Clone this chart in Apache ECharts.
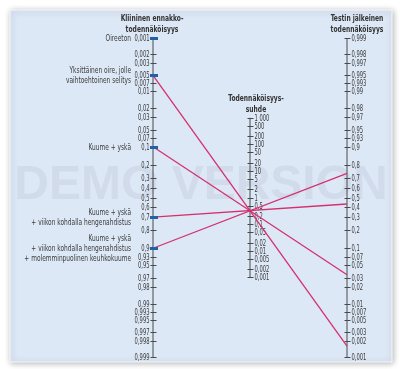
<!DOCTYPE html>
<html><head><meta charset="utf-8">
<script src="https://cdn.jsdelivr.net/npm/echarts@6/dist/echarts.min.js"></script>
<style>html,body{margin:0;padding:0;background:#fff}#c{width:400px;height:369px}</style>
</head><body><div id="c"></div>
<script>
// ---- data ----
const pretestLabels = ['Oireeton', 'Yksittäinen oire, jolle\nvaihtoehtoinen selitys', 'Kuume + yskä',
  'Kuume + yskä\n+ viikon kohdalla hengenahdistus',
  'Kuume + yskä\n+ viikon kohdalla hengenahdistus\n+ molemminpuolinen keuhkokuume'];
const pretestProbs = [0.001, 0.005, 0.1, 0.7, 0.9];
const likelihoodRatio = 0.32;
const posttestProbs = [null, 0.0016, 0.034, 0.43, 0.74];
const probTicks = [0.001, 0.002, 0.003, 0.005, 0.007, 0.01, 0.02, 0.03, 0.05, 0.07, 0.1, 0.2, 0.3, 0.4, 0.5,
  0.6, 0.7, 0.8, 0.9, 0.93, 0.95, 0.97, 0.98, 0.99, 0.993, 0.995, 0.997, 0.998, 0.999];
const lrTicks = [1000, 500, 200, 100, 50, 20, 10, 5, 2, 1, 0.5, 0.2, 0.1, 0.05, 0.02, 0.01, 0.005, 0.002, 0.001];
const titleLeft = 'Kliininen ennakko-\ntodennäköisyys';
const titleMid = 'Todennäköisyys-\nsuhde';
const titleRight = 'Testin jälkeinen\ntodennäköisyys';

// ---- scales ----
const logit = p => Math.log(p / (1 - p));
const U = logit(0.999);
const uLeft = p => logit(p);
const uRight = p => -logit(p);
const uMid = lr => -Math.log(lr) / 2;
const fmtP = v => String(v).replace('.', ',');
const fmtLR = v => v >= 1000 ? String(v).replace(/(\d)(?=(\d{3})+$)/g, '$1 ') : String(v).replace('.', ',');

const FONT = '"Liberation Sans Narrow","DejaVu Sans Condensed","Roboto Condensed",sans-serif';
const TXT = '#3a3a3a', AX = '#4a4a4a';
const SX_TICK = 0.68, SX_CAT = 0.77, SX_TITLE = 0.7;

function tickSeries(ticks, xv, toU, fmt, side) {
  return {
    type: 'custom', coordinateSystem: 'cartesian2d', silent: true, z: 3,
    data: ticks.map(t => [xv, toU(t), t]),
    renderItem(params, api) {
      const p = api.coord([api.value(0), api.value(1)]);
      const y = Math.round(p[1]) + 0.5, x = Math.round(p[0]) + 0.5;
      const t = api.value(2);
      return { type: 'group', children: [
        { type: 'line', shape: { x1: x - 3, y1: y, x2: x + 3, y2: y }, style: { stroke: AX, lineWidth: 1 } },
        { type: 'text', x: side === 'left' ? x - 4 : x + 4, y: y, scaleX: SX_TICK,
          style: { text: fmt(t), align: side === 'left' ? 'right' : 'left', verticalAlign: 'middle',
            fontFamily: FONT, fontSize: 8.5, fill: TXT } }
      ]};
    }
  };
}
function axisLine(xv, u1, u2) {
  return { type: 'line', silent: true, z: 2, symbol: 'none', animation: false,
    lineStyle: { color: AX, width: 1 }, data: [[xv, u1], [xv, u2]] };
}

const series = [
  axisLine(0, uLeft(probTicks[0]), uLeft(probTicks[probTicks.length - 1])),
  axisLine(0.5, uMid(lrTicks[0]), uMid(lrTicks[lrTicks.length - 1])),
  axisLine(1, uRight(probTicks[probTicks.length - 1]), uRight(probTicks[0])),
  tickSeries(probTicks, 0, uLeft, fmtP, 'left'),
  tickSeries(lrTicks, 0.5, uMid, fmtLR, 'right'),
  tickSeries(probTicks, 1, uRight, fmtP, 'right')
];
pretestProbs.forEach((p, i) => {
  if (posttestProbs[i] == null) return;
  series.push({ type: 'line', silent: true, z: 4, symbol: 'none', animation: false,
    lineStyle: { color: '#d4306e', width: 1.3 },
    data: [[0, uLeft(p)], [1, uRight(posttestProbs[i])]] });
});
series.push({
  type: 'custom', coordinateSystem: 'cartesian2d', silent: true, z: 5,
  data: pretestProbs.map((p, i) => [0, uLeft(p), i]),
  renderItem(params, api) {
    const p = api.coord([api.value(0), api.value(1)]);
    const i = api.value(2);
    const x = Math.round(p[0]), y = Math.round(p[1]);
    return { type: 'group', children: [
      { type: 'rect', shape: { x: x - 3, y: y - 1, width: 8, height: 3 }, style: { fill: '#2360a8' } },
      { type: 'text', x: x - 22, y: y + 0.5, scaleX: SX_CAT,
        style: { text: pretestLabels[i], align: 'right', verticalAlign: 'middle', lineHeight: 10,
          fontFamily: FONT, fontSize: 8.5, fill: TXT } }
    ]};
  }
});

function title(text, x, y) {
  return { type: 'text', x: x, y: y, scaleX: SX_TITLE, z: 10,
    style: { text: text, align: 'center', verticalAlign: 'top', lineHeight: 11,
      fontFamily: FONT, fontSize: 9.5, fontWeight: 'bold', fill: '#333' } };
}

const chart = echarts.init(document.getElementById('c'), null, { renderer: 'canvas' });
chart.setOption({
  animation: false,
  grid: { left: 153, right: 53, top: 38, bottom: 12 },
  xAxis: { type: 'value', min: 0, max: 1, show: false },
  yAxis: { type: 'value', min: -U, max: U, inverse: true, show: false },
  graphic: [
    { type: 'rect', z: -10, shape: { x: 10, y: 10, width: 382, height: 352 },
      style: { fill: '#dde8f6', stroke: '#f4f8fc', lineWidth: 1, shadowBlur: 6, shadowColor: 'rgba(0,0,0,0.3)', shadowOffsetX: 1, shadowOffsetY: 1 } },
    { type: 'text', z: -5, x: 201, y: 186, style: { text: 'DEMO VERSION', align: 'center', verticalAlign: 'middle',
      fontFamily: '"Liberation Sans",Arial,sans-serif', fontWeight: 'bold', fontSize: 48, fill: 'rgba(120,135,155,0.12)' } },
    title(titleLeft, 152, 13),
    title(titleMid, 256, 93),
    title(titleRight, 357, 13)
  ],
  series: series
});
</script></body></html>
